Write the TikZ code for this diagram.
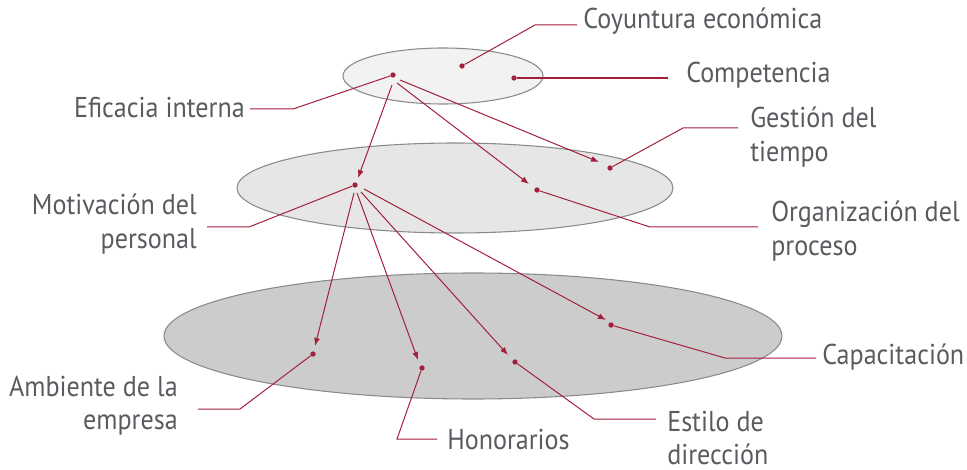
\documentclass[tikz,border=0pt]{standalone}
\usepackage{fontspec}
\setmainfont{PT Sans}[FakeStretch=0.91]
\usetikzlibrary{arrows.meta}
\definecolor{crim}{HTML}{A3203C}
\definecolor{txt}{HTML}{5A5B60}
\definecolor{f1}{HTML}{F2F2F2}
\definecolor{f2}{HTML}{E6E6E6}
\definecolor{f3}{HTML}{CCCCCC}
\definecolor{edge}{HTML}{8A8A8A}
\tikzset{
  plane/.style={draw=edge, line width=0.8pt},
  dot/.style={circle, fill=crim, inner sep=0pt, minimum size=4pt},
  lead/.style={draw=crim, line width=0.75pt},
  arr/.style={draw=crim, line width=0.75pt, -{Latex[length=6pt,width=4.5pt]}},
  lbl/.style={text=txt, inner sep=0pt, font=\fontsize{21.5}{25}\selectfont},
}
\begin{document}
\begin{tikzpicture}[x=0.75pt,y=-0.75pt]
\useasboundingbox (0,0) rectangle (967,470);
% planes
\draw[plane, fill=f3] (473,336) ellipse [x radius=309, y radius=63];
\draw[plane, fill=f2] (455,188) ellipse [x radius=218, y radius=45];
\draw[plane, fill=f1] (443,76) ellipse [x radius=100, y radius=28];
% dots
\node[dot] (coy) at (462,66) {};
\node[dot] (com) at (514,78) {};
\node[dot] (efi) at (393,75) {};
\node[dot] (ges) at (610,168) {};
\node[dot] (org) at (537,190) {};
\node[dot] (mot) at (355,185) {};
\node[dot] (amb) at (313,354) {};
\node[dot] (hon) at (422,368) {};
\node[dot] (est) at (515,362) {};
\node[dot] (cap) at (611,325) {};
% arrow start/end coordinates
\coordinate (e1) at (392,85);
\coordinate (e2) at (397,83);
\coordinate (e3) at (400,80);
\coordinate (t1) at (358,178);
\coordinate (t2) at (529,184);
\coordinate (t3) at (599,162);
\coordinate (m1) at (354,193);
\coordinate (m2) at (357,193);
\coordinate (m3) at (361,192);
\coordinate (m4) at (364,189);
\coordinate (u1) at (315,346);
\coordinate (u2) at (418,360);
\coordinate (u3) at (508,355);
\coordinate (u4) at (606,320);
% bends
\coordinate (bcoy) at (535,25);
\coordinate (bcoy2) at (577,25);
\coordinate (bcom) at (668,78);
\coordinate (befi) at (293,109);
\coordinate (befi2) at (250,109);
\coordinate (bges) at (683,128);
\coordinate (bges2) at (738,128);
\coordinate (borg) at (650,227);
\coordinate (borg2) at (758,227);
\coordinate (bmot) at (249,227);
\coordinate (bmot2) at (207,227);
\coordinate (bamb) at (240,409);
\coordinate (bamb2) at (198,409);
\coordinate (bhon) at (397,439);
\coordinate (bhon2) at (437,439);
\coordinate (best) at (594,419);
\coordinate (best2) at (656,419);
\coordinate (bcap) at (725,358);
\coordinate (bcap2) at (816,358);
% leader lines
\draw[lead] (coy) -- (bcoy) -- (bcoy2);
\draw[lead, line width=1.5pt] (com) -- (bcom);
\draw[lead] (efi) -- (befi) -- (befi2);
\draw[lead] (ges) -- (bges) -- (bges2);
\draw[lead] (org) -- (borg) -- (borg2);
\draw[lead] (mot) -- (bmot) -- (bmot2);
\draw[lead] (amb) -- (bamb) -- (bamb2);
\draw[lead] (hon) -- (bhon) -- (bhon2);
\draw[lead] (est) -- (best) -- (best2);
\draw[lead] (cap) -- (bcap) -- (bcap2);
% arrows
\draw[arr] (e1) -- (t1);
\draw[arr] (e2) -- (t2);
\draw[arr] (e3) -- (t3);
\draw[arr] (m1) -- (u1);
\draw[arr] (m2) -- (u2);
\draw[arr] (m3) -- (u3);
\draw[arr] (m4) -- (u4);
% labels
\node[lbl, anchor=west] (lcoy) at (583,21) {Coyuntura económica};
\node[lbl, anchor=west] (lcom) at (686,75) {Competencia};
\node[lbl, anchor=east] (lefi) at (245,108) {Eficacia interna};
\node[lbl, anchor=west, align=left] (lges) at (750,137) {Gestión del\\tiempo};
\node[lbl, anchor=west, align=left] (lorg) at (771,231) {Organización del\\proceso};
\node[lbl, anchor=east, align=right] (lmot) at (197,224) {Motivación del\\personal};
\node[lbl, anchor=east, align=right] (lamb) at (178,406) {Ambiente de la\\empresa};
\node[lbl, anchor=west] (lhon) at (447,440) {Honorarios};
\node[lbl, anchor=west, align=left] (lest) at (667,438) {Estilo de\\dirección};
\node[lbl, anchor=west] (lcap) at (822,357) {Capacitación};
\end{tikzpicture}
\end{document}
